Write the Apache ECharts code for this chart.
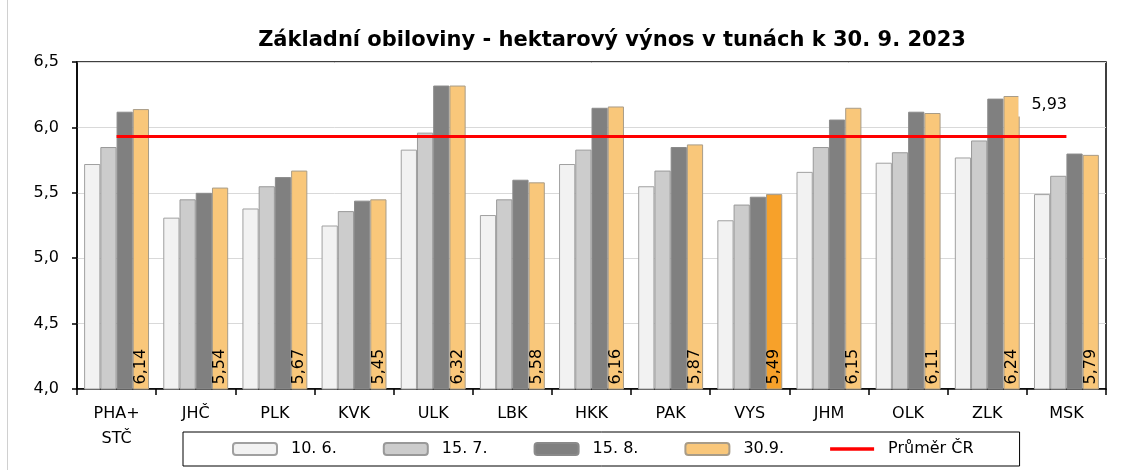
<!DOCTYPE html>
<html><head><meta charset="utf-8">
<script src="https://cdn.jsdelivr.net/npm/echarts@6/dist/echarts.min.js"></script>
<style>html,body{margin:0;padding:0;background:#fff}#c{width:1127px;height:470px}</style>
</head><body><div id="c"></div>
<script>
var titleText = 'Základní obiloviny - hektarový výnos v tunách k 30. 9. 2023';
var categories = ['PHA+\nSTČ','JHČ','PLK','KVK','ULK','LBK','HKK','PAK','VYS','JHM','OLK','ZLK','MSK'];
var seriesNames = ['10. 6.','15. 7.','15. 8.','30.9.','Průměr ČR'];
var jun10 = [5.72,5.31,5.38,5.25,5.83,5.33,5.72,5.55,5.29,5.66,5.73,5.77,5.49];
var jul15 = [5.85,5.45,5.55,5.36,5.96,5.45,5.83,5.67,5.41,5.85,5.81,5.90,5.63];
var aug15 = [6.12,5.50,5.62,5.44,6.32,5.60,6.15,5.85,5.47,6.06,6.12,6.22,5.80];
var sep30 = [6.14,5.54,5.67,5.45,6.32,5.58,6.16,5.87,5.49,6.15,6.11,6.24,5.79];
var avgCR = 5.93;
var highlightCategory = 'VYS';
var yTicks = [4.0,4.5,5.0,5.5,6.0,6.5];

var FONT = 'DejaVu Sans, Verdana, sans-serif';
var fmt = function(v, d){ return Number(v).toFixed(d).replace('.', ','); };
var chart = echarts.init(document.getElementById('c'));

var barColors = ['#F2F2F2','#CCCCCC','#808080','#F9C77A'];
var borderCol = ['#A0A0A0','#999999','#8A8A8A','#A89C88'];
function barSeries(i, data){
  var s = {
    name: seriesNames[i], type:'bar', z:2,
    barGap:'0%', barCategoryGap:'18%',
    itemStyle:{color:barColors[i], borderColor:borderCol[i], borderWidth:1},
    emphasis:{disabled:true},
    data: data.map(function(v, k){
      if (i===3 && categories[k]===highlightCategory) return {value:v, itemStyle:{color:'#F7A12A'}};
      return v;
    })
  };
  if (i===3) {
    s.label = {show:true, position:'insideBottom', rotate:90, align:'left', verticalAlign:'middle',
      distance:5, color:'#000', fontFamily:FONT, fontSize:16,
      formatter:function(p){return fmt(p.value,2);}};
  }
  return s;
}
var avgData = categories.map(function(){return avgCR;});
var legendData = seriesNames.map(function(n, i){
  return i === 4 ? {name:n, icon:'path://M0,0H44V3.5H0Z', itemStyle:{color:'#FF0000', borderWidth:0}} : {name:n};
});

chart.setOption({
  animation:false,
  backgroundColor:'#fff',
  title:{text:titleText, left:607, top:25, textAlign:'center',
    textStyle:{fontFamily:FONT, fontWeight:'bold', fontSize:21, color:'#000'}},
  grid:{left:77, right:21, top:62, bottom:81, show:true, borderColor:'#000', borderWidth:1.5, backgroundColor:'transparent'},
  legend:{left:183, top:432, data:legendData, itemWidth:44, itemHeight:12, itemGap:46, symbolKeepAspect:true,
    padding:[9,46,9,49], borderColor:'#000', borderWidth:1, selectedMode:false,
    textStyle:{fontFamily:FONT, fontSize:16, color:'#000', padding:[0,0,0,9]}},
  xAxis:{type:'category', data:categories,
    axisLine:{lineStyle:{color:'#000', width:1.5}},
    axisTick:{show:true, length:6, lineStyle:{color:'#000', width:1.5}},
    axisLabel:{fontFamily:FONT, fontSize:16, color:'#000', margin:12, lineHeight:25, interval:0}},
  yAxis:{type:'value', min:yTicks[0], max:yTicks[yTicks.length-1], interval:0.5,
    axisLine:{show:true, lineStyle:{color:'#000', width:1.5}},
    axisTick:{show:true, length:5, lineStyle:{color:'#000', width:1.5}},
    splitLine:{lineStyle:{color:'#D9D9D9', width:1}},
    axisLabel:{fontFamily:FONT, fontSize:16, color:'#000', margin:18,
      formatter:function(v){return fmt(v,1);}}},
  graphic:[{type:'line', shape:{x1:7.5,y1:0,x2:7.5,y2:470}, style:{stroke:'#D0D0D0', lineWidth:1}, silent:true}],
  series:[
    barSeries(0, jun10), barSeries(1, jul15), barSeries(2, aug15), barSeries(3, sep30),
    {name:seriesNames[4], type:'line', z:5, symbol:'none', showSymbol:false,
     lineStyle:{color:'#FF0000', width:3}, itemStyle:{color:'#FF0000'},
     emphasis:{disabled:true},
     endLabel:{show:true, offset:[-56,-32], backgroundColor:'#fff', padding:[4,13,4,13],
       fontFamily:FONT, fontSize:16, color:'#000',
       formatter:function(p){return fmt(p.value,2);}},
     data: avgData}
  ]
});
</script></body></html>
